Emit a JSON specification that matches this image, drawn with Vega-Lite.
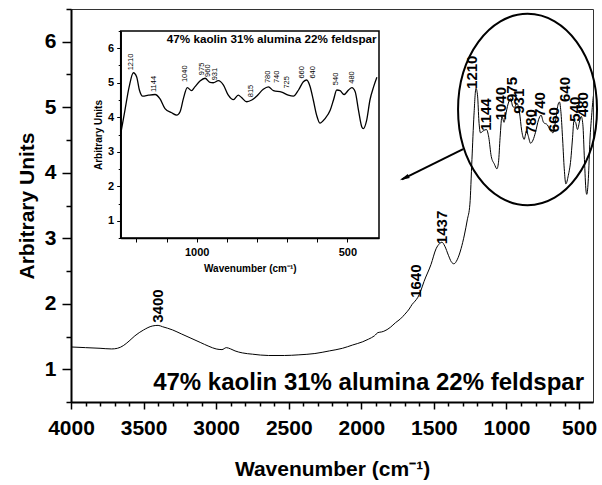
{
  "$schema": "https://vega.github.io/schema/vega-lite/v6.json",
  "width": 522,
  "height": 393,
  "autosize": {"type": "none"},
  "padding": {"left": 71, "top": 9, "right": 9, "bottom": 83},
  "background": "white",
  "config": {
    "view": {"stroke": "#333", "strokeWidth": 1},
    "font": "Liberation Sans",
    "axis": {"domainColor": "black", "tickColor": "black", "labelColor": "black", "titleColor": "black", "grid": false, "labelFont": "Liberation Sans", "titleFont": "Liberation Sans", "labelFontWeight": "bold", "titleFontWeight": "bold", "labelOverlap": false, "labelFlush": false, "labelBound": false}
  },
  "datasets": {
    "spectrum": [
      {"wn": 4000, "au": 1.34}, {"wn": 3900, "au": 1.33}, {"wn": 3800, "au": 1.32}, {"wn": 3720, "au": 1.31},
      {"wn": 3680, "au": 1.32}, {"wn": 3640, "au": 1.36}, {"wn": 3600, "au": 1.43}, {"wn": 3560, "au": 1.51},
      {"wn": 3500, "au": 1.6}, {"wn": 3440, "au": 1.66}, {"wn": 3400, "au": 1.67}, {"wn": 3370, "au": 1.65},
      {"wn": 3300, "au": 1.6}, {"wn": 3240, "au": 1.54}, {"wn": 3180, "au": 1.48}, {"wn": 3110, "au": 1.41},
      {"wn": 3050, "au": 1.35}, {"wn": 3000, "au": 1.31}, {"wn": 2960, "au": 1.3}, {"wn": 2930, "au": 1.33},
      {"wn": 2900, "au": 1.31}, {"wn": 2870, "au": 1.28}, {"wn": 2820, "au": 1.25}, {"wn": 2750, "au": 1.23},
      {"wn": 2640, "au": 1.21}, {"wn": 2530, "au": 1.21}, {"wn": 2430, "au": 1.22}, {"wn": 2320, "au": 1.24},
      {"wn": 2220, "au": 1.28}, {"wn": 2130, "au": 1.32}, {"wn": 2060, "au": 1.37}, {"wn": 1990, "au": 1.42},
      {"wn": 1950, "au": 1.46}, {"wn": 1910, "au": 1.51}, {"wn": 1885, "au": 1.56}, {"wn": 1860, "au": 1.57},
      {"wn": 1845, "au": 1.58}, {"wn": 1800, "au": 1.64}, {"wn": 1765, "au": 1.71}, {"wn": 1730, "au": 1.77},
      {"wn": 1700, "au": 1.84}, {"wn": 1670, "au": 1.92}, {"wn": 1650, "au": 1.99}, {"wn": 1630, "au": 2.04},
      {"wn": 1610, "au": 2.1}, {"wn": 1590, "au": 2.2}, {"wn": 1568, "au": 2.34}, {"wn": 1520, "au": 2.6},
      {"wn": 1485, "au": 2.84}, {"wn": 1460, "au": 2.92}, {"wn": 1445, "au": 2.94}, {"wn": 1425, "au": 2.88},
      {"wn": 1400, "au": 2.74}, {"wn": 1380, "au": 2.64}, {"wn": 1362, "au": 2.61}, {"wn": 1340, "au": 2.67},
      {"wn": 1313, "au": 2.84}, {"wn": 1290, "au": 3.05}, {"wn": 1270, "au": 3.28}, {"wn": 1252, "au": 3.52},
      {"wn": 1238, "au": 4.2}, {"wn": 1224, "au": 4.88}, {"wn": 1210, "au": 5.29}, {"wn": 1199, "au": 5.17},
      {"wn": 1190, "au": 4.79}, {"wn": 1179, "au": 4.61}, {"wn": 1160, "au": 4.64}, {"wn": 1138, "au": 4.66},
      {"wn": 1122, "au": 4.54}, {"wn": 1105, "au": 4.25}, {"wn": 1083, "au": 4.13}, {"wn": 1066, "au": 4.06},
      {"wn": 1055, "au": 4.16}, {"wn": 1044, "au": 4.54}, {"wn": 1031, "au": 4.86}, {"wn": 1017, "au": 4.77},
      {"wn": 1006, "au": 4.88}, {"wn": 989, "au": 5.05}, {"wn": 972, "au": 5.13}, {"wn": 956, "au": 5.01},
      {"wn": 945, "au": 5.0}, {"wn": 928, "au": 5.06}, {"wn": 911, "au": 4.93}, {"wn": 895, "au": 4.64},
      {"wn": 878, "au": 4.51}, {"wn": 862, "au": 4.64}, {"wn": 851, "au": 4.57}, {"wn": 834, "au": 4.45},
      {"wn": 817, "au": 4.5}, {"wn": 801, "au": 4.61}, {"wn": 779, "au": 4.81}, {"wn": 762, "au": 4.88},
      {"wn": 745, "au": 4.77}, {"wn": 718, "au": 4.73}, {"wn": 696, "au": 4.64}, {"wn": 679, "au": 4.61},
      {"wn": 662, "au": 4.79}, {"wn": 646, "au": 5.03}, {"wn": 635, "au": 5.08}, {"wn": 624, "au": 4.9},
      {"wn": 613, "au": 4.5}, {"wn": 602, "au": 4.06}, {"wn": 591, "au": 3.83}, {"wn": 574, "au": 3.96},
      {"wn": 557, "au": 4.2}, {"wn": 546, "au": 4.5}, {"wn": 535, "au": 4.79}, {"wn": 524, "au": 4.77},
      {"wn": 511, "au": 4.66}, {"wn": 496, "au": 4.79}, {"wn": 485, "au": 4.86}, {"wn": 474, "au": 4.74},
      {"wn": 463, "au": 4.2}, {"wn": 452, "au": 3.72}, {"wn": 447, "au": 3.67}, {"wn": 436, "au": 3.91},
      {"wn": 425, "au": 4.5}, {"wn": 413, "au": 4.88}, {"wn": 402, "au": 5.16}, {"wn": 393, "au": 5.25}
    ],
    "mainLabels": [
      {"wn": 3401, "au": 1.71, "label": "3400"}, {"wn": 1626, "au": 2.09, "label": "1640"},
      {"wn": 1444, "au": 2.91, "label": "1437"}, {"wn": 1237, "au": 5.28, "label": "1210"},
      {"wn": 1141, "au": 4.64, "label": "1144"}, {"wn": 1041, "au": 4.8, "label": "1040"},
      {"wn": 962, "au": 5.08, "label": "975"}, {"wn": 913, "au": 4.9, "label": "931"},
      {"wn": 832, "au": 4.59, "label": "780"}, {"wn": 769, "au": 4.85, "label": "740"},
      {"wn": 675, "au": 4.62, "label": "660"}, {"wn": 594, "au": 5.08, "label": "640"},
      {"wn": 527, "au": 4.78, "label": "540"}, {"wn": 470, "au": 4.85, "label": "480"}
    ],
    "insetLabels": [
      {"wn": 1218, "au": 5.36, "label": "1210"}, {"wn": 1141, "au": 4.73, "label": "1144"},
      {"wn": 1038, "au": 5.02, "label": "1040"}, {"wn": 983, "au": 5.22, "label": "975"},
      {"wn": 961, "au": 5.17, "label": "960"}, {"wn": 939, "au": 5.07, "label": "931"},
      {"wn": 820, "au": 4.58, "label": "815"}, {"wn": 762, "au": 4.99, "label": "780"},
      {"wn": 734, "au": 4.99, "label": "740"}, {"wn": 701, "au": 4.83, "label": "725"},
      {"wn": 651, "au": 5.12, "label": "660"}, {"wn": 613, "au": 5.12, "label": "640"},
      {"wn": 537, "au": 4.93, "label": "540"}, {"wn": 483, "au": 4.97, "label": "480"}
    ]
  },
  "layer": [
    {
      "encoding": {
        "x": {"field": "wn", "type": "quantitative",
          "scale": {"domain": [4000, 404], "nice": false, "zero": false},
          "axis": {"orient": "bottom", "title": "Wavenumber (cm⁻¹)",
            "values": [500,600,700,800,900,1000,1100,1200,1300,1400,1500,1600,1700,1800,1900,2000,2100,2200,2300,2400,2500,2600,2700,2800,2900,3000,3100,3200,3300,3400,3500,3600,3700,3800,3900,4000],
            "labelExpr": "datum.value % 500 === 0 ? format(datum.value, 'd') : ''",
            "tickSize": {"condition": {"test": "datum.value % 500 === 0", "value": 7}, "value": 4},
            "tickWidth": 1.5, "domainWidth": 2,
            "labelFontSize": 21, "labelPadding": 8,
            "titleFontSize": 21, "titleX": 261, "titleY": 73, "titleBaseline": "alphabetic", "titleAlign": "center"}},
        "y": {"field": "au", "type": "quantitative",
          "scale": {"domain": [0.5, 6.5], "nice": false, "zero": false},
          "axis": {"orient": "left", "title": "Arbitrary Units",
            "values": [0.5,1,1.5,2,2.5,3,3.5,4,4.5,5,5.5,6,6.5],
            "labelExpr": "datum.value % 1 === 0 ? format(datum.value, 'd') : ''",
            "tickSize": {"condition": {"test": "datum.value % 1 === 0", "value": 9}, "value": 5},
            "tickWidth": 1.5, "domainWidth": 2,
            "labelFontSize": 21, "labelPadding": 6,
            "titleFontSize": 21, "titleX": -38, "titleY": 196.5, "titleAngle": -90, "titleBaseline": "alphabetic", "titleAlign": "center"}}
      },
      "layer": [
        {"data": {"name": "spectrum"}, "mark": {"type": "line", "color": "black", "strokeWidth": 1, "interpolate": "monotone", "clip": true}},
        {"data": {"name": "mainLabels"}, "mark": {"type": "text", "angle": 270, "align": "left", "baseline": "middle", "fontSize": 15, "fontWeight": "bold", "font": "Liberation Sans", "color": "black"},
          "encoding": {"text": {"field": "label"}}},
        {"data": {"values": [{"wn": 855, "au": 4.966}]},
          "mark": {"type": "point", "shape": "M-0.726,0A0.726,1,0,1,1,0.726,0A0.726,1,0,1,1,-0.726,0Z", "size": 36634, "filled": false, "stroke": "black", "strokeWidth": 2, "opacity": 1}},
        {"data": {"values": [{"wn": 1299, "au": 4.36, "wn2": 1720, "au2": 3.9}]},
          "mark": {"type": "rule", "color": "black", "strokeWidth": 2},
          "encoding": {"x2": {"field": "wn2"}, "y2": {"field": "au2"}}},
        {"data": {"values": [{"wn": 1704, "au": 3.918}]},
          "mark": {"type": "point", "shape": "M0,-1L0.45,1L-0.45,1Z", "size": 100, "angle": 243.8, "filled": true, "color": "black", "opacity": 1}},
        {"data": {"values": [{"wn": 1950, "au": 0.683, "label": "47% kaolin 31% alumina 22% feldspar"}]},
          "mark": {"type": "text", "align": "center", "baseline": "alphabetic", "fontSize": 24, "fontWeight": "bold", "font": "Liberation Sans", "color": "black"},
          "encoding": {"text": {"field": "label"}}}
      ]
    },
    {
      "encoding": {
        "x": {"field": "wn", "type": "quantitative",
          "scale": {"domain": [1252, 395], "range": [49.7, 308], "nice": false, "zero": false},
          "axis": {"orient": "bottom", "offset": -164, "title": "Wavenumber (cm⁻¹)", "zindex": 2,
            "values": [500,600,700,800,900,1000,1100,1200],
            "labelExpr": "datum.value % 500 === 0 ? format(datum.value, 'd') : ''",
            "tickSize": 4, "tickWidth": 1, "domainWidth": 1.5,
            "labelFontSize": 11, "labelPadding": 4,
            "titleFontSize": 10, "titleY": 30, "titleBaseline": "middle"}},
        "y": {"field": "au", "type": "quantitative",
          "scale": {"domain": [0.5, 6.5], "range": [229, 22], "nice": false, "zero": false},
          "axis": {"orient": "left", "offset": -49.7, "title": "Arbitrary Units", "zindex": 2,
            "values": [0.5,1,1.5,2,2.5,3,3.5,4,4.5,5,5.5,6,6.5],
            "labelExpr": "datum.value % 1 === 0 ? format(datum.value, 'd') : ''",
            "tickSize": {"condition": {"test": "datum.value % 1 === 0", "value": 4}, "value": 2.5},
            "tickWidth": 1, "domainWidth": 1.5,
            "labelFontSize": 11, "labelPadding": 3,
            "titleFontSize": 10, "titleX": -19, "titleAngle": -90, "titleBaseline": "alphabetic"}}
      },
      "layer": [
        {"data": {"values": [{"wn": 1252, "wn2": 395, "au": 0.5, "au2": 6.5}]},
          "mark": {"type": "rect", "fill": "white", "stroke": "black", "strokeWidth": 1.5},
          "encoding": {"x2": {"field": "wn2"}, "y2": {"field": "au2"}}},
        {"data": {"name": "spectrum"}, "transform": [{"filter": "datum.wn <= 1252 && datum.wn >= 395"}],
          "mark": {"type": "line", "color": "black", "strokeWidth": 1.3, "interpolate": "monotone"}},
        {"data": {"name": "insetLabels"}, "mark": {"type": "text", "angle": 270, "align": "left", "baseline": "middle", "fontSize": 7.5, "font": "Liberation Sans", "color": "black"},
          "encoding": {"text": {"field": "label"}}},
        {"data": {"values": [{"wn": 751, "au": 6.14, "label": "47% kaolin 31% alumina 22% feldspar"}]},
          "mark": {"type": "text", "align": "center", "baseline": "alphabetic", "fontSize": 11.7, "fontWeight": "bold", "font": "Liberation Sans", "color": "black"},
          "encoding": {"text": {"field": "label"}}}
      ]
    }
  ],
  "resolve": {"scale": {"x": "independent", "y": "independent"}, "axis": {"x": "independent", "y": "independent"}}
}
